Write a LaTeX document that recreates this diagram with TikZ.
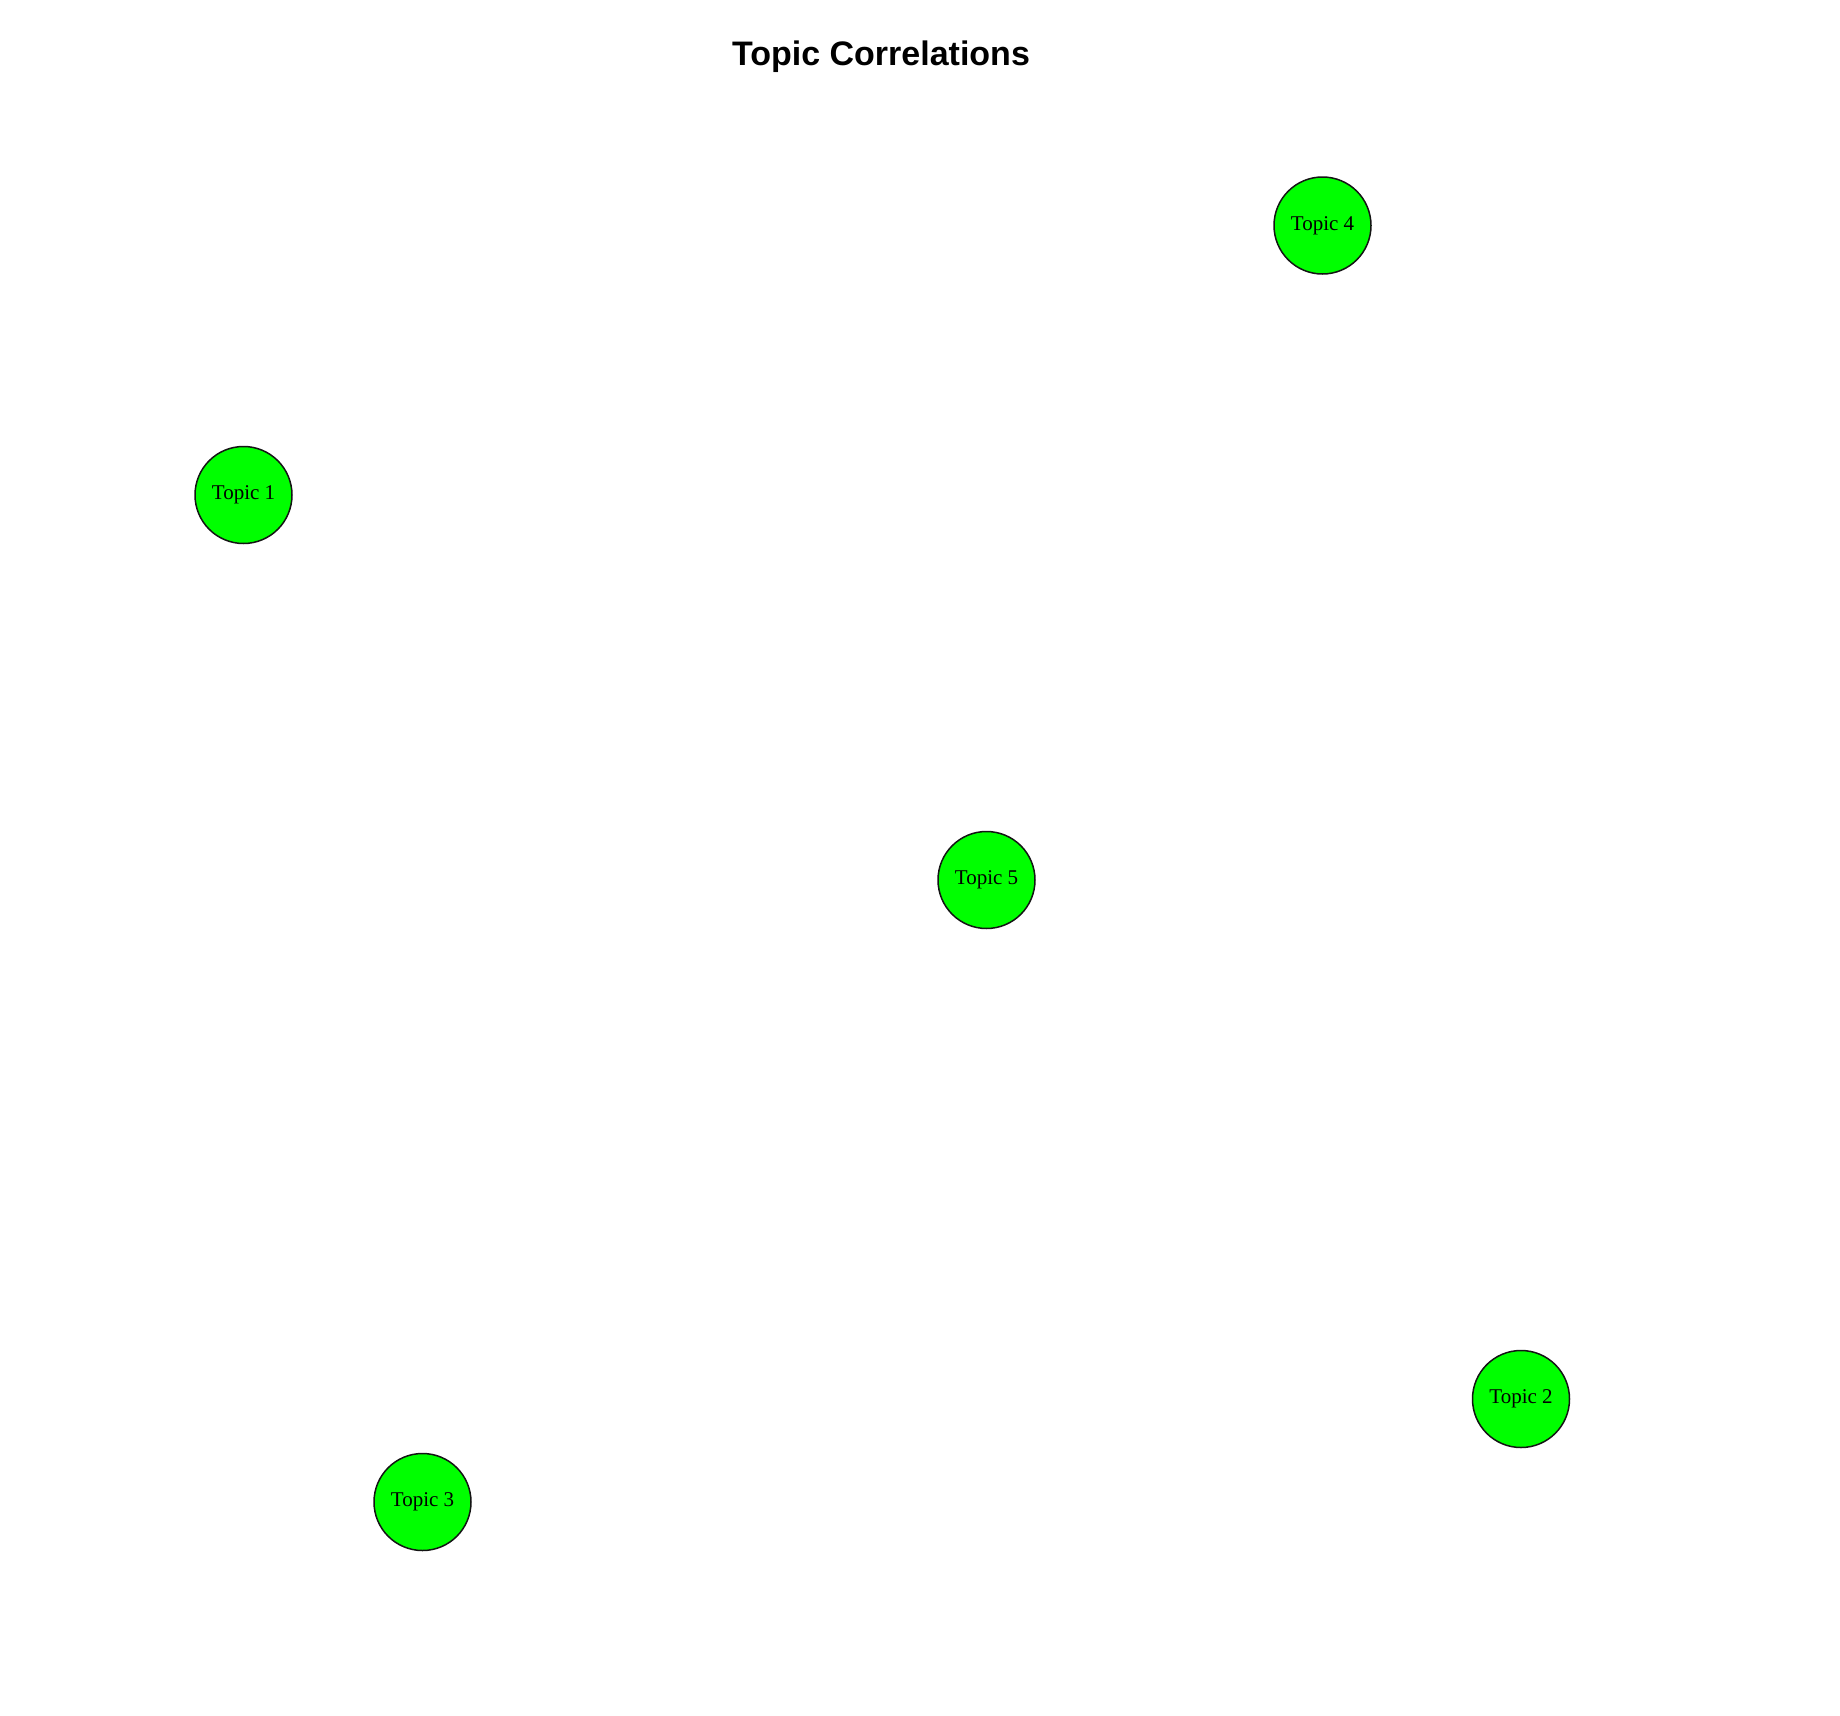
\documentclass[tikz,border=0pt]{standalone}
\usepackage{fontspec}
\setmainfont{Liberation Serif}
\newfontfamily\titlefont{Liberation Sans}
\usepackage{xcolor}
\definecolor{topicgreen}{RGB}{0,255,0}
\definecolor{rimblack}{RGB}{20,20,20}

\tikzset{
  topic/.style={circle,draw=rimblack,line width=1.5pt,fill=topicgreen,
    minimum size=97pt,inner sep=0pt,text=black,
    font=\fontsize{21}{23}\selectfont},
  heading/.style={anchor=base,text=black,
    font=\fontsize{34}{40}\selectfont\titlefont\bfseries}
}

\begin{document}
\begin{tikzpicture}[x=1pt,y=-1pt]

  % ── CANVAS ─────────────────────────────────────────────────────────────────
  \useasboundingbox[fill=white] (0,0) rectangle (1840,1716);

  % ── TITLE ──────────────────────────────────────────────────────────────────
  \node[heading] (title) at (881,65) {Topic Correlations};

  % ── TOPIC NODES ────────────────────────────────────────────────────────────
  \node[topic] (topic4) at (1322.5,225.5) {Topic 4};
  \node[topic] (topic1) at (243.5,495)    {Topic 1};
  \node[topic] (topic5) at (986.5,880)    {Topic 5};
  \node[topic] (topic2) at (1521,1399)    {Topic 2};
  \node[topic] (topic3) at (422.5,1502)   {Topic 3};

\end{tikzpicture}
\end{document}
